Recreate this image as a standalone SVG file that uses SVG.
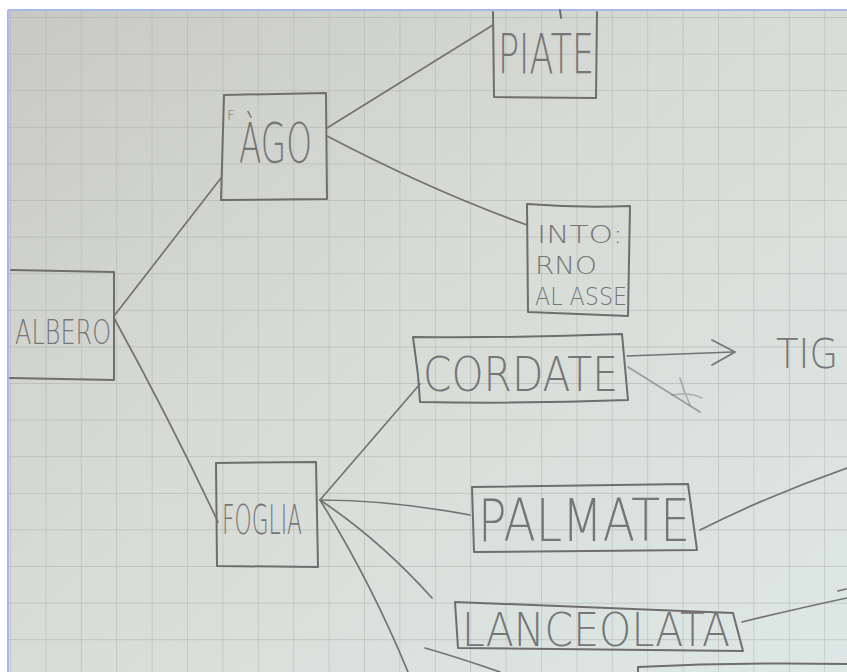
<svg xmlns="http://www.w3.org/2000/svg" width="847" height="672" viewBox="0 0 847 672">
<style>
.box{fill:none;stroke:#6e6e6e;stroke-width:2;stroke-linejoin:round;stroke-linecap:round}
.ln{fill:none;stroke:#737373;stroke-width:1.7;stroke-linecap:round}
.t{font-family:"DejaVu Sans","Liberation Sans",sans-serif;fill:#767676;font-weight:200}
</style>
<defs>
<linearGradient id="paper" x1="0" y1="0" x2="1" y2="1">
<stop offset="0" stop-color="#c8c9c4"/>
<stop offset="0.45" stop-color="#d8dbd6"/>
<stop offset="1" stop-color="#dde8e6"/>
</linearGradient>
<pattern id="grid" x="10" y="17" width="35.4" height="36.6" patternUnits="userSpaceOnUse">
<path d="M0 0H35.4M0 0V36.6" fill="none" stroke="#a9aba7" stroke-width="1.3" stroke-opacity="0.65"/>
</pattern>
</defs>
<rect width="847" height="672" fill="#ffffff"/>
<rect x="8" y="10" width="839" height="662" fill="url(#paper)"/>
<rect x="8" y="10" width="839" height="662" fill="url(#grid)"/>
<path d="M8 10H847M8 10V672" stroke="#a8b8e8" stroke-width="2" fill="none"/>

<g id="connectors">
<path class="ln" d="M114 316 L221 178"/>
<path class="ln" d="M114 318 Q170 420 218 522"/>
<path class="ln" d="M327 128 L493 25"/>
<path class="ln" d="M327 136 Q430 190 527 225"/>
<path class="ln" d="M320 500 L420 384"/>
<path class="ln" d="M320 500 Q390 500 470 515"/>
<path class="ln" d="M320 500 Q380 540 432 598"/>
<path class="ln" d="M320 500 Q370 580 408 672"/>
<path class="ln" d="M425 648 Q460 658 500 672"/>
<path class="ln" d="M627 356 L733 352"/>
<path class="ln" d="M712 340 L735 352 L712 365"/>
<path class="ln" d="M628 367 L700 412" stroke-opacity="0.6"/>
<path class="ln" d="M680 378 Q684 392 690 405 M672 395 Q690 392 702 398" stroke-opacity="0.45"/>
<path class="ln" d="M700 530 Q770 495 847 468"/>
<path class="ln" d="M742 622 Q800 608 847 598"/>
<path class="ln" d="M838 591 L846 589"/>
</g>

<g id="piate">
<path class="box" d="M493 12 L494 97 L596 98 L597 12"/>
<path class="box" d="M560 10 L561 18"/>
<text class="t" x="498" y="73" font-size="56" textLength="96" lengthAdjust="spacingAndGlyphs">PIATE</text>
</g>

<g id="fago">
<path class="box" d="M224 95 L326 93 L327 199 L221 200 Z"/>
<text class="t" x="227" y="120" font-size="14">F</text>
<text class="t" x="239" y="162" font-size="56" textLength="73" lengthAdjust="spacingAndGlyphs">ÀGO</text>
</g>

<g id="intorno">
<path class="box" d="M527 204 Q580 208 630 206 L628 316 L528 312 Z"/>
<text class="t" x="537" y="243" font-size="25" textLength="86" lengthAdjust="spacingAndGlyphs">INTO:</text>
<text class="t" x="535" y="274" font-size="25" textLength="62" lengthAdjust="spacingAndGlyphs">RNO</text>
<text class="t" x="535" y="305" font-size="25" textLength="92" lengthAdjust="spacingAndGlyphs">AL ASSE</text>
</g>

<g id="albero">
<path class="box" d="M11 270 L114 272 L114 380 L10 378"/>
<text class="t" x="15" y="344" font-size="34" textLength="96" lengthAdjust="spacingAndGlyphs">ALBERO</text>
</g>

<g id="cordate">
<path class="box" d="M413 337 Q520 338 622 334 L628 400 Q520 404 420 402 L418 375 Z"/>
<text class="t" x="423" y="391" font-size="48" textLength="195" lengthAdjust="spacingAndGlyphs">CORDATE</text>
</g>

<g id="tig">
<text class="t" x="776" y="368" font-size="40" textLength="62" lengthAdjust="spacingAndGlyphs">TIG</text>
</g>

<g id="foglia">
<path class="box" d="M216 463 L316 462 L318 567 L217 566 Z"/>
<text class="t" x="222" y="534" font-size="40" textLength="80" lengthAdjust="spacingAndGlyphs">FOGLIA</text>
</g>

<g id="palmate">
<path class="box" d="M472 487 L688 484 L697 550 L474 552 Z"/>
<text class="t" x="478" y="541" font-size="58" textLength="212" lengthAdjust="spacingAndGlyphs">PALMATE</text>
</g>

<g id="lanceolata">
<path class="box" d="M455 602 L733 613 L743 651 L458 648 Z"/>
<text class="t" x="462" y="646" font-size="46" textLength="268" lengthAdjust="spacingAndGlyphs">LANCEOLATA</text>
</g>

<g id="bottom-box">
<path class="box" d="M638 672 L638 667 Q740 662 847 664"/>
</g>
</svg>
